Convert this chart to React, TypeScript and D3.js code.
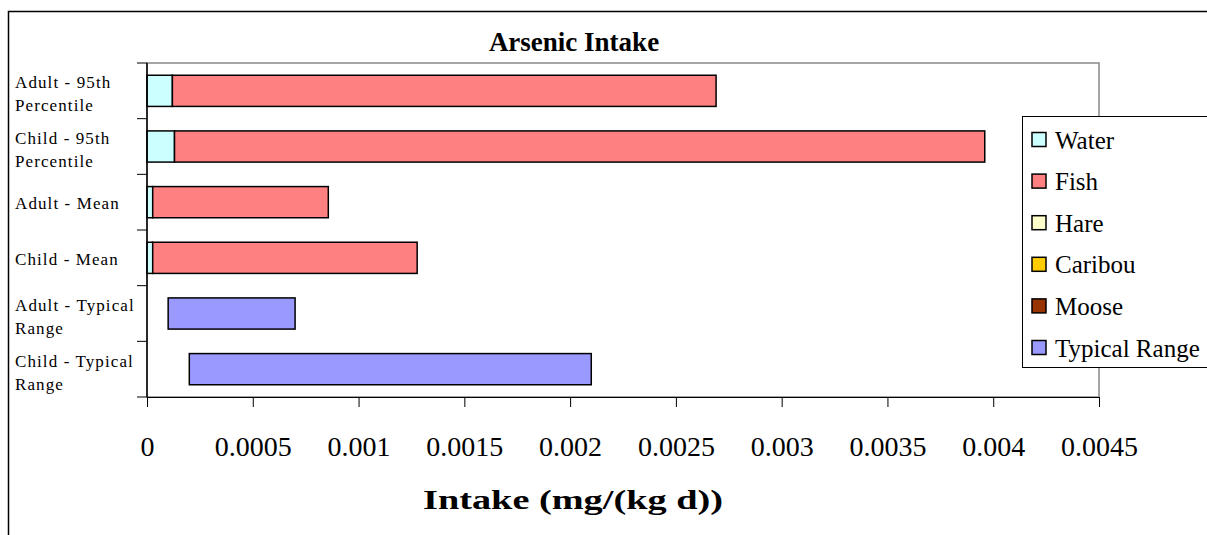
import * as d3 from "d3";
import { useEffect, useRef } from "react";

// categories, top to bottom; each label split into lines
const categories = [
    "Adult - 95th|Percentile",
    "Child - 95th|Percentile",
    "Adult - Mean",
    "Child - Mean",
    "Adult - Typical|Range",
    "Child - Typical|Range",
];
// stacked intake series (mg/(kg d))
const water = [0.00012, 0.00013, 0.000027, 0.000027, 0, 0];
const fish = [0.00257, 0.00383, 0.00083, 0.00125, 0, 0];
const hare = [0, 0, 0, 0, 0, 0];
const caribou = [0, 0, 0, 0, 0, 0];
const moose = [0, 0, 0, 0, 0, 0];
// typical range shown as a floating bar: start and end
const rangeStart = [0, 0, 0, 0, 0.0001, 0.0002];
const rangeEnd = [0, 0, 0, 0, 0.0007, 0.0021];

const seriesNames = ["Water", "Fish", "Hare", "Caribou", "Moose", "Typical Range"];
const seriesColors = ["#CCFFFF", "#FF8080", "#FFFFCC", "#FFCC00", "#993300", "#9999FF"];
const xTicks = [0, 0.0005, 0.001, 0.0015, 0.002, 0.0025, 0.003, 0.0035, 0.004, 0.0045];

function drawChart(divRef: React.RefObject<HTMLDivElement>) {
    const width = 1207;
    const height = 535;
    const left = 147, right = 1099, top = 63, bottom = 397;
    const font = "'Liberation Serif', 'Times New Roman', serif";

    d3.select(divRef.current).selectAll("*").remove();
    const svg = d3.select(divRef.current)
        .append("svg")
        .attr("width", width)
        .attr("height", height)
        .style("display", "block")
        .style("font-family", font);

    svg.append("rect").attr("width", width).attr("height", height).attr("fill", "#fff");
    // outer chart border (cut off at right and bottom)
    svg.append("rect")
        .attr("x", 8.5).attr("y", 11.5)
        .attr("width", 1210).attr("height", 540)
        .attr("fill", "none").attr("stroke", "#000").attr("stroke-width", 1.5);

    const x = d3.scaleLinear().domain([0, 0.0045]).range([left, right]);
    const y = d3.scaleBand<number>()
        .domain(d3.range(categories.length))
        .range([top, bottom])
        .paddingInner(0.44)
        .paddingOuter(0.22);

    // plot area frame
    svg.append("rect")
        .attr("x", left).attr("y", top)
        .attr("width", right - left).attr("height", bottom - top)
        .attr("fill", "none").attr("stroke", "#888").attr("stroke-width", 1.5);

    // title
    svg.append("text")
        .attr("x", 574).attr("y", 51)
        .attr("text-anchor", "middle")
        .style("font-size", "27px").style("font-weight", "bold")
        .text("Arsenic Intake");

    // stacked bars
    const stackSeries = [water, fish, hare, caribou, moose];
    categories.forEach((_, i) => {
        let acc = 0;
        stackSeries.forEach((s, k) => {
            const v = s[i];
            if (v > 0) {
                svg.append("rect")
                    .attr("x", x(acc))
                    .attr("y", y(i)!)
                    .attr("width", x(acc + v) - x(acc))
                    .attr("height", y.bandwidth())
                    .attr("fill", seriesColors[k])
                    .attr("stroke", "#000").attr("stroke-width", 1.5);
            }
            acc += v;
        });
        if (rangeEnd[i] > rangeStart[i]) {
            svg.append("rect")
                .attr("x", x(rangeStart[i]))
                .attr("y", y(i)!)
                .attr("width", x(rangeEnd[i]) - x(rangeStart[i]))
                .attr("height", y.bandwidth())
                .attr("fill", seriesColors[5])
                .attr("stroke", "#000").attr("stroke-width", 1.5);
        }
    });

    // axes
    const xAxis = svg.append("g")
        .attr("transform", `translate(0,${bottom})`)
        .call(d3.axisBottom(x).tickValues(xTicks).tickSize(10).tickSizeOuter(0).tickFormat(d => String(+d)));
    xAxis.select(".domain").attr("stroke", "#000").attr("stroke-width", 1.2);
    xAxis.selectAll(".tick line").attr("stroke", "#000");
    xAxis.selectAll("text")
        .attr("y", 0).attr("dy", 0)
        .attr("transform", "translate(0,59)")
        .style("font-size", "28px").style("font-family", font).attr("fill", "#000");

    svg.append("line")
        .attr("x1", left).attr("x2", left).attr("y1", top).attr("y2", bottom)
        .attr("stroke", "#000").attr("stroke-width", 1.5);
    const yTickPos = d3.range(categories.length + 1).map(i => top + i * (bottom - top) / categories.length);
    svg.selectAll(".ytick")
        .data(yTickPos)
        .enter()
        .append("line")
        .attr("x1", left - 10).attr("x2", left)
        .attr("y1", d => d).attr("y2", d => d)
        .attr("stroke", "#000");

    // category labels
    categories.forEach((c, i) => {
        const lines = c.split("|");
        const cy = y(i)! + y.bandwidth() / 2;
        const lh = 23;
        const t = svg.append("text")
            .attr("x", 15)
            .style("font-size", "17px")
            .style("letter-spacing", "1.1px");
        lines.forEach((ln, j) => {
            t.append("tspan")
                .attr("x", 15)
                .attr("y", cy + (j - (lines.length - 1) / 2) * lh + (lines.length > 1 ? 9 : 7))
                .text(ln);
        });
    });

    // axis title
    svg.append("text")
        .attr("x", 573).attr("y", 509)
        .attr("text-anchor", "middle")
        .attr("textLength", 300)
        .attr("lengthAdjust", "spacingAndGlyphs")
        .style("font-size", "27px").style("font-weight", "bold")
        .text("Intake (mg/(kg d))");

    // legend
    const lg = svg.append("g");
    lg.append("rect")
        .attr("x", 1022.5).attr("y", 116.5)
        .attr("width", 200).attr("height", 251)
        .attr("fill", "#fff").attr("stroke", "#000").attr("stroke-width", 1);
    seriesNames.forEach((name, i) => {
        const cy = 139.5 + i * 41.6;
        lg.append("rect")
            .attr("x", 1032).attr("y", cy - 7)
            .attr("width", 14).attr("height", 14)
            .attr("fill", seriesColors[i])
            .attr("stroke", "#000").attr("stroke-width", 1.5);
        lg.append("text")
            .attr("x", 1055).attr("y", cy + 9)
            .style("font-size", "25px")
            .text(name);
    });
}

export default function App() {
    const divRef = useRef<HTMLDivElement>(null);
    useEffect(() => {
        drawChart(divRef);
    }, [divRef]);
    return (
        <div
            ref={divRef}
            style={{ position: "fixed", left: 0, top: 0, width: 1207, height: 535, overflow: "hidden" }}
        />
    );
}
